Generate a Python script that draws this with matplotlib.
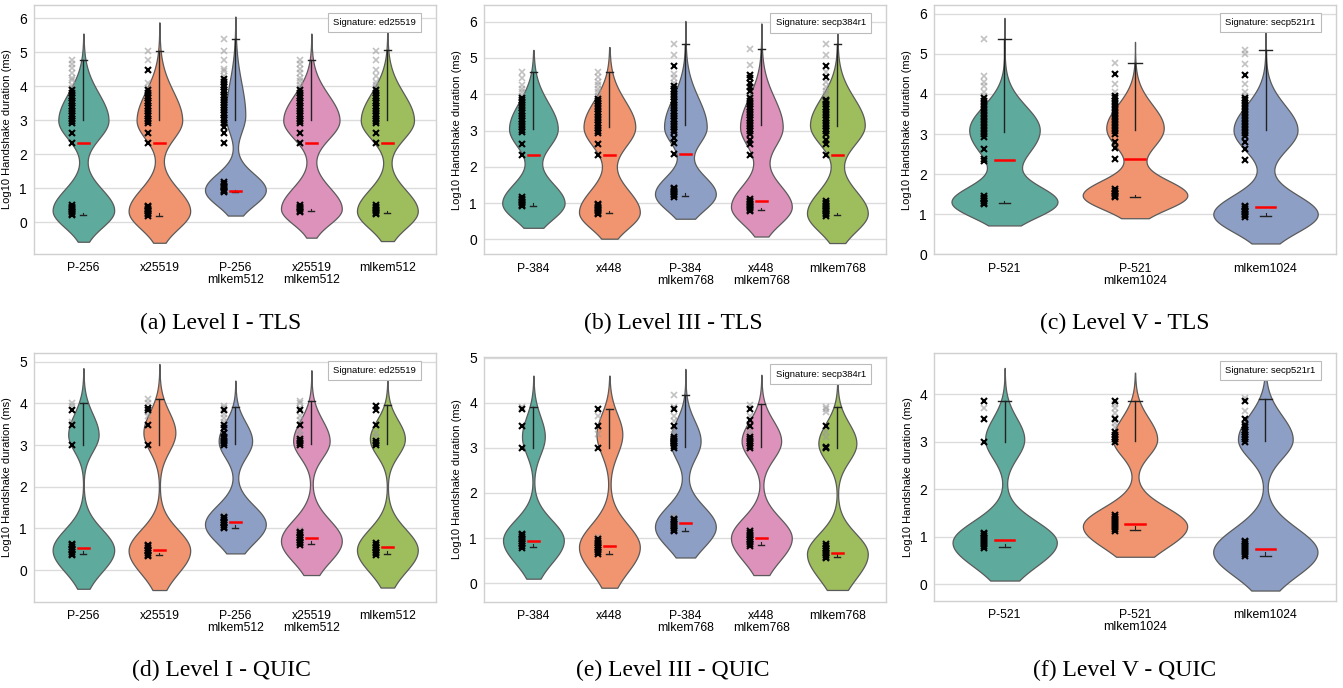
import numpy as np
import matplotlib
matplotlib.use("Agg")
import matplotlib.pyplot as plt

# ---------------- data ----------------
cats_a = ["P-256", "x25519", "P-256\nmlkem512", "x25519\nmlkem512", "mlkem512"]
cats_b = ["P-384", "x448", "P-384\nmlkem768", "x448\nmlkem768", "mlkem768"]
cats_c = ["P-521", "P-521\nmlkem1024", "mlkem1024"]
cats_d = cats_a
cats_e = cats_b
cats_f = cats_c

sig_a, sig_b, sig_c = "Signature: ed25519", "Signature: secp384r1", "Signature: secp521r1"
captions = ["(a) Level I - TLS", "(b) Level III - TLS", "(c) Level V - TLS",
            "(d) Level I - QUIC", "(e) Level III - QUIC", "(f) Level V - QUIC"]

# violin density modes: (centre, half-width, spread below, spread above)
shape_a = [[(0.35, 0.405, 0.50, 0.62), (3.00, 0.33, 0.55, 0.80)],
           [(0.33, 0.405, 0.52, 0.65), (3.00, 0.30, 0.55, 0.85)],
           [(0.95, 0.400, 0.45, 0.48), (3.15, 0.13, 0.50, 0.95)],
           [(0.40, 0.400, 0.45, 0.62), (3.00, 0.37, 0.55, 0.75)],
           [(0.33, 0.400, 0.50, 0.62), (3.00, 0.35, 0.55, 0.80)]]
range_a = [(-0.57, 5.55), (-0.60, 5.88), (0.20, 6.05), (-0.45, 5.55), (-0.55, 5.60)]
shape_b = [[(1.00, 0.41, 0.45, 0.55), (3.05, 0.32, 0.52, 0.72)],
           [(0.75, 0.40, 0.45, 0.62), (3.10, 0.34, 0.55, 0.72)],
           [(1.25, 0.40, 0.45, 0.50), (3.10, 0.28, 0.48, 0.80)],
           [(0.90, 0.40, 0.48, 0.60), (3.10, 0.28, 0.55, 0.80)],
           [(0.72, 0.40, 0.50, 0.62), (3.15, 0.36, 0.55, 0.75)]]
range_b = [(0.32, 5.22), (0.02, 5.30), (0.57, 6.02), (0.08, 5.95), (-0.10, 6.10)]
shape_c = [[(1.30, 0.40, 0.38, 0.40), (3.10, 0.27, 0.65, 0.60)],
           [(1.47, 0.40, 0.35, 0.38), (3.15, 0.22, 0.50, 0.58)],
           [(1.00, 0.40, 0.45, 0.48), (3.10, 0.245, 0.52, 0.62)]]
range_c = [(0.72, 5.90), (0.90, 5.30), (0.27, 5.55)]
shape_d = [[(0.48, 0.405, 0.52, 0.50), (3.25, 0.20, 0.40, 0.50)],
           [(0.47, 0.405, 0.55, 0.50), (3.30, 0.21, 0.45, 0.50)],
           [(1.10, 0.400, 0.45, 0.45), (3.10, 0.22, 0.40, 0.45)],
           [(0.70, 0.400, 0.50, 0.50), (3.10, 0.24, 0.40, 0.50)],
           [(0.48, 0.400, 0.52, 0.50), (3.15, 0.23, 0.40, 0.45)]]
range_d = [(-0.45, 4.85), (-0.48, 4.95), (0.40, 4.55), (-0.12, 4.80), (-0.42, 4.60)]
shape_e = [[(0.95, 0.40, 0.50, 0.45), (3.25, 0.15, 0.40, 0.45)],
           [(0.80, 0.40, 0.55, 0.50), (3.30, 0.17, 0.45, 0.45)],
           [(1.25, 0.40, 0.45, 0.45), (3.15, 0.20, 0.40, 0.45)],
           [(1.00, 0.40, 0.50, 0.45), (3.15, 0.26, 0.40, 0.45)],
           [(0.65, 0.40, 0.55, 0.45), (3.10, 0.25, 0.40, 0.45)]]
range_e = [(0.10, 4.60), (-0.10, 4.60), (0.57, 4.75), (0.18, 4.62), (-0.15, 4.48)]
shape_f = [[(0.88, 0.40, 0.50, 0.45), (3.05, 0.15, 0.40, 0.45)],
           [(1.22, 0.40, 0.45, 0.40), (3.05, 0.17, 0.35, 0.45)],
           [(0.68, 0.40, 0.50, 0.50), (3.05, 0.21, 0.40, 0.50)]]
range_f = [(0.08, 4.55), (0.58, 4.45), (-0.13, 4.60)]

# red mean line, small lower tick, vertical bar low/high (with cap at high)
mean_a = [2.32, 2.32, 0.93, 2.32, 2.32]
tick_a = [0.22, 0.20, 0.88, 0.33, 0.27]
barlo_a = [3.00, 3.02, 3.02, 3.02, 3.02]
barhi_a = [4.78, 5.05, 5.38, 4.78, 5.07]
mean_b = [2.33, 2.33, 2.35, 1.05, 2.33]
tick_b = [0.93, 0.72, 1.20, 0.80, 0.67]
barlo_b = [3.05, 3.10, 3.15, 3.15, 3.12]
barhi_b = [4.60, 4.60, 5.38, 5.25, 5.38]
mean_c = [2.35, 2.37, 1.18]
tick_c = [1.27, 1.42, 0.95]
barlo_c = [3.05, 3.10, 3.10]
barhi_c = [5.38, 4.78, 5.10]
mean_d = [0.53, 0.47, 1.15, 0.78, 0.55]
tick_d = [0.38, 0.35, 1.02, 0.62, 0.38]
barlo_d = [3.00, 3.00, 3.02, 3.02, 3.02]
barhi_d = [4.00, 4.12, 3.92, 4.05, 3.97]
mean_e = [0.93, 0.82, 1.33, 1.00, 0.68]
tick_e = [0.80, 0.65, 1.15, 0.85, 0.58]
barlo_e = [3.00, 3.00, 3.02, 3.02, 3.00]
barhi_e = [3.90, 3.85, 4.17, 3.97, 3.90]
mean_f = [0.93, 1.27, 0.74]
tick_f = [0.78, 1.15, 0.60]
barlo_f = [3.00, 3.02, 3.02]
barhi_f = [3.85, 3.85, 3.90]

# outlier markers (black = dense, grey = sparse)
blk_a = [[0.22, 0.26, 0.30, 0.34, 0.38, 0.42, 0.46, 0.50, 2.32, 2.62, 2.92, 2.98, 3.05, 3.12, 3.20, 3.28,
          3.35, 3.42, 3.50, 3.58, 3.65, 3.72, 3.80, 3.88],
         [0.20, 0.24, 0.28, 0.32, 0.36, 0.40, 0.44, 0.48, 2.32, 2.62, 2.92, 2.98, 3.05, 3.12, 3.20, 3.28,
          3.35, 3.42, 3.50, 3.58, 3.65, 3.72, 3.80, 3.88, 4.48],
         [0.88, 0.92, 0.96, 1.00, 1.04, 1.08, 1.12, 1.18, 2.32, 2.62, 2.80, 2.92, 3.00, 3.08, 3.15, 3.22,
          3.30, 3.38, 3.45, 3.52, 3.60, 3.68, 3.75, 3.82, 3.90, 3.98, 4.05, 4.12, 4.20],
         [0.30, 0.34, 0.38, 0.42, 0.46, 0.50, 2.32, 2.62, 2.92, 2.98, 3.05, 3.12, 3.20, 3.28, 3.35, 3.42,
          3.50, 3.58, 3.65, 3.72, 3.80, 3.88],
         [0.25, 0.29, 0.33, 0.37, 0.41, 0.45, 0.50, 2.32, 2.62, 2.92, 2.98, 3.05, 3.12, 3.20, 3.28, 3.35,
          3.42, 3.50, 3.58, 3.65, 3.72, 3.80, 3.88]]
gry_a = [[3.95, 4.05, 4.18, 4.25, 4.40, 4.55, 4.65, 4.78],
         [3.95, 4.10, 4.78, 5.05],
         [4.30, 4.45, 4.52, 4.78, 5.05, 5.38],
         [3.95, 4.05, 4.15, 4.25, 4.40, 4.50, 4.65, 4.78],
         [3.95, 4.05, 4.12, 4.30, 4.48, 4.78, 5.05]]
blk_b = [[0.92, 0.96, 1.00, 1.04, 1.08, 1.12, 1.18, 2.33, 2.62, 2.95, 3.02, 3.10, 3.18, 3.25, 3.32, 3.40,
          3.48, 3.55, 3.62, 3.70, 3.78, 3.85, 3.90],
         [0.70, 0.74, 0.78, 0.82, 0.86, 0.90, 0.94, 0.98, 2.33, 2.62, 2.92, 3.00, 3.08, 3.15, 3.22, 3.30,
          3.38, 3.45, 3.52, 3.60, 3.68, 3.75, 3.82, 3.88],
         [1.18, 1.22, 1.26, 1.30, 1.34, 1.38, 1.42, 2.35, 2.65, 2.80, 2.95, 3.02, 3.10, 3.18, 3.25, 3.32,
          3.40, 3.48, 3.55, 3.62, 3.70, 3.78, 3.85, 3.92, 4.00, 4.08, 4.15, 4.22, 4.78],
         [0.78, 0.82, 0.86, 0.90, 0.94, 0.98, 1.02, 1.06, 1.10, 2.33, 2.62, 2.75, 2.90, 2.98, 3.05, 3.12,
          3.20, 3.28, 3.35, 3.42, 3.50, 3.58, 3.65, 3.72, 3.80, 3.90, 4.10, 4.20, 4.30, 4.45, 4.52],
         [0.65, 0.69, 0.73, 0.77, 0.81, 0.85, 0.89, 0.93, 0.97, 1.01, 1.05, 2.33, 2.62, 2.75, 2.90, 2.98,
          3.05, 3.12, 3.20, 3.28, 3.35, 3.42, 3.50, 3.58, 3.65, 3.72, 3.80, 3.85, 4.48, 4.78]]
gry_b = [[3.95, 4.05, 4.15, 4.25, 4.45, 4.60],
         [3.95, 4.05, 4.15, 4.25, 4.35, 4.48, 4.60],
         [4.30, 4.45, 4.55, 5.08, 5.38],
         [3.95, 4.05, 4.80, 5.25],
         [3.90, 4.00, 4.10, 4.20, 4.35, 4.60, 5.08, 5.38]]
blk_c = [[1.25, 1.29, 1.33, 1.37, 1.41, 1.45, 2.33, 2.37, 2.63, 2.92, 3.00, 3.08, 3.15, 3.22, 3.30, 3.38,
          3.45, 3.52, 3.60, 3.68, 3.75, 3.82, 3.90],
         [1.42, 1.46, 1.50, 1.54, 1.58, 1.62, 2.38, 2.65, 2.80, 3.00, 3.08, 3.15, 3.22, 3.30, 3.38, 3.45,
          3.52, 3.60, 3.68, 3.75, 3.82, 3.90, 3.95, 4.50],
         [0.93, 0.97, 1.01, 1.05, 1.09, 1.13, 1.17, 1.20, 2.35, 2.62, 2.80, 2.95, 3.02, 3.10, 3.18, 3.25,
          3.32, 3.40, 3.48, 3.55, 3.62, 3.70, 3.78, 3.85, 3.90, 4.48]]
gry_c = [[3.95, 4.05, 4.20, 4.30, 4.45, 5.38],
         [4.05, 4.25, 4.78],
         [3.95, 4.05, 4.25, 4.75, 5.00, 5.10]]
blk_d = [[0.35, 0.39, 0.43, 0.47, 0.51, 0.55, 0.59, 0.63, 3.00, 3.48, 3.85],
         [0.33, 0.37, 0.41, 0.45, 0.49, 0.53, 0.57, 0.61, 3.00, 3.48, 3.85, 3.90],
         [1.00, 1.04, 1.08, 1.12, 1.16, 1.20, 1.24, 1.28, 3.00, 3.05, 3.10, 3.15, 3.20, 3.30, 3.40, 3.48, 3.85],
         [0.60, 0.64, 0.68, 0.72, 0.76, 0.80, 0.84, 0.88, 0.92, 3.00, 3.05, 3.10, 3.15, 3.48, 3.85],
         [0.36, 0.40, 0.44, 0.48, 0.52, 0.56, 0.60, 0.64, 3.00, 3.05, 3.10, 3.48, 3.85, 3.95]]
gry_d = [[3.55, 3.95, 4.00],
         [3.70, 3.80, 4.00, 4.10],
         [1.35, 3.55, 3.65, 3.75, 3.90, 3.95],
         [0.95, 3.25, 3.35, 3.60, 3.70, 3.90, 4.00, 4.05],
         [3.20, 3.30]]
blk_e = [[0.78, 0.82, 0.86, 0.90, 0.94, 0.98, 1.02, 1.06, 1.10, 3.00, 3.48, 3.85],
         [0.65, 0.69, 0.73, 0.77, 0.81, 0.85, 0.89, 0.93, 0.97, 3.00, 3.48, 3.85],
         [1.15, 1.19, 1.23, 1.27, 1.31, 1.35, 1.39, 1.43, 3.00, 3.05, 3.10, 3.15, 3.20, 3.25, 3.48, 3.85],
         [0.83, 0.87, 0.91, 0.95, 0.99, 1.03, 1.07, 1.11, 1.15, 3.00, 3.05, 3.10, 3.15, 3.20, 3.25, 3.48,
          3.62, 3.85],
         [0.55, 0.59, 0.63, 0.67, 0.71, 0.75, 0.79, 0.83, 0.87, 3.00, 3.02, 3.48]]
gry_e = [[3.90],
         [1.02, 3.30, 3.70],
         [1.48, 3.30, 3.40, 3.60, 3.70, 3.90, 4.17],
         [1.18, 3.30, 3.40, 3.70, 3.95],
         [3.25, 3.35, 3.80, 3.85, 3.90]]
blk_f = [[0.77, 0.81, 0.85, 0.89, 0.93, 0.97, 1.01, 1.05, 1.08, 3.00, 3.48, 3.85],
         [1.13, 1.17, 1.21, 1.25, 1.29, 1.33, 1.37, 1.41, 1.45, 3.00, 3.05, 3.10, 3.15, 3.20, 3.48, 3.85],
         [0.60, 0.64, 0.68, 0.72, 0.76, 0.80, 0.84, 0.88, 0.92, 3.00, 3.05, 3.10, 3.15, 3.20, 3.25, 3.30,
          3.35, 3.48, 3.85]]
gry_f = [[3.70],
         [3.30, 3.40, 3.50, 3.60, 3.70, 3.80],
         [3.65, 3.92]]

ylim_a, ylim_b, ylim_c = (-0.93, 6.39), (-0.41, 6.45), (0.0, 6.22)
ylim_d, ylim_e, ylim_f = (-0.76, 5.22), (-0.41, 5.02), (-0.35, 4.87)
yticks_a = [0, 1, 2, 3, 4, 5, 6]
yticks_b = [0, 1, 2, 3, 4, 5, 6]
yticks_c = [0, 1, 2, 3, 4, 5, 6]
yticks_d = [0, 1, 2, 3, 4, 5]
yticks_e = [0, 1, 2, 3, 4, 5]
yticks_f = [0, 1, 2, 3, 4]

# ---------------- style ----------------
W, H = 1343, 688
fig = plt.figure(figsize=(W / 100, H / 100), dpi=100)
SANS = ["Liberation Sans", "DejaVu Sans"]
SERIF = ["Liberation Serif", "DejaVu Serif"]
palette = ["#5eaa9c", "#f0956f", "#8e9fc5", "#dc92ba", "#9ebd5d"]
P_SHAPE = 2.0
MK_OFF = -0.155


def px_box(l, r, t, b):
    return [l / W, 1 - b / H, (r - l) / W, (b - t) / H]


boxes = [px_box(34, 436, 5, 254), px_box(484, 886, 5.3, 254.3), px_box(934, 1336, 5, 254.3),
         px_box(34, 436, 352.7, 601.7), px_box(484, 886, 356.7, 601.7), px_box(934.3, 1335.7, 352.7, 601)]

panels = [
    (cats_a, shape_a, range_a, mean_a, tick_a, barlo_a, barhi_a, blk_a, gry_a, ylim_a, yticks_a, sig_a),
    (cats_b, shape_b, range_b, mean_b, tick_b, barlo_b, barhi_b, blk_b, gry_b, ylim_b, yticks_b, sig_b),
    (cats_c, shape_c, range_c, mean_c, tick_c, barlo_c, barhi_c, blk_c, gry_c, ylim_c, yticks_c, sig_c),
    (cats_d, shape_d, range_d, mean_d, tick_d, barlo_d, barhi_d, blk_d, gry_d, ylim_d, yticks_d, sig_a),
    (cats_e, shape_e, range_e, mean_e, tick_e, barlo_e, barhi_e, blk_e, gry_e, ylim_e, yticks_e, sig_b),
    (cats_f, shape_f, range_f, mean_f, tick_f, barlo_f, barhi_f, blk_f, gry_f, ylim_f, yticks_f, sig_c),
]


def half_width(y, comps):
    w = np.zeros_like(y)
    for c, h, sd, su in comps:
        d = y - c
        s = np.where(d < 0, sd, su)
        w += h * np.exp(-0.5 * np.abs(d / s) ** P_SHAPE)
    return w


for box, (cats, shapes, ranges, means, ticks, blo, bhi, blks, grys, ylim, yt, sig) in zip(boxes, panels):
    ax = fig.add_axes(box)
    n = len(cats)
    if n == 5:
        ax.set_xlim(-0.65, n - 0.36)
    else:
        ax.set_xlim(-0.54, n - 0.46)
    ax.set_ylim(*ylim)
    ax.set_yticks(yt)
    ax.set_xticks(range(n))
    ax.set_xticklabels(cats, fontsize=8.8, family=SANS, linespacing=1.0)
    ax.tick_params(axis="y", labelsize=10, length=0, pad=5)
    ax.tick_params(axis="x", length=0, pad=6)
    for lab in ax.get_yticklabels():
        lab.set_family(SANS)
    ax.grid(axis="y", color="#dcdcdc", lw=1.0, zorder=0)
    ax.grid(axis="x", visible=False)
    ax.set_axisbelow(True)
    for sp in ax.spines.values():
        sp.set_color("#d0d0d0")
        sp.set_linewidth(1.0)
    ax.set_ylabel("Log10 Handshake duration (ms)", fontsize=8, family=SANS)
    ax.yaxis.set_label_coords(-0.054, 0.5)

    for i in range(n):
        lo, hi = ranges[i]
        yy = np.linspace(lo, hi, 600)
        ww = half_width(yy, shapes[i])
        ax.fill_betweenx(yy, i - ww, i + ww, facecolor=palette[i], edgecolor="#5a5a5a",
                         lw=0.9, zorder=2)
        # vertical bar with cap
        ax.plot([i, i], [blo[i], bhi[i]], color="#222222", lw=1.0, zorder=3)
        ax.plot([i - 0.05, i + 0.05], [bhi[i], bhi[i]], color="#222222", lw=1.0, zorder=3)
        # lower tick
        ax.plot([i - 0.04, i + 0.04], [ticks[i], ticks[i]], color="#222222", lw=1.0, zorder=3)
        ax.plot([i, i], [ticks[i], ticks[i] + 0.07], color="#222222", lw=0.8, zorder=3)
        # mean line
        ax.plot([i - 0.075, i + 0.075], [means[i], means[i]], color="red", lw=1.8, zorder=4)
        # markers
        ax.plot([i + MK_OFF] * len(grys[i]), grys[i], ls="none", marker="x", ms=4,
                mew=1.2, color="#9a9a9a", alpha=0.6, zorder=4)
        ax.plot([i + MK_OFF] * len(blks[i]), blks[i], ls="none", marker="x", ms=4,
                mew=1.5, color="black", zorder=5)

    ax.text(0.9495, 0.929, sig, transform=ax.transAxes, ha="right", va="center",
            fontsize=6.8, family=SANS, zorder=10,
            bbox=dict(boxstyle="square,pad=0.55", fc="white", ec="#bbbbbb", lw=0.8))

cap_x = [221, 673, 1125]
cap_y = [323.5, 670]
for k, cap in enumerate(captions):
    fig.text(cap_x[k % 3] / W, 1 - cap_y[k // 3] / H, cap, ha="center", va="center",
             fontsize=17, family=SERIF)

fig.savefig("out.png", dpi=100)
